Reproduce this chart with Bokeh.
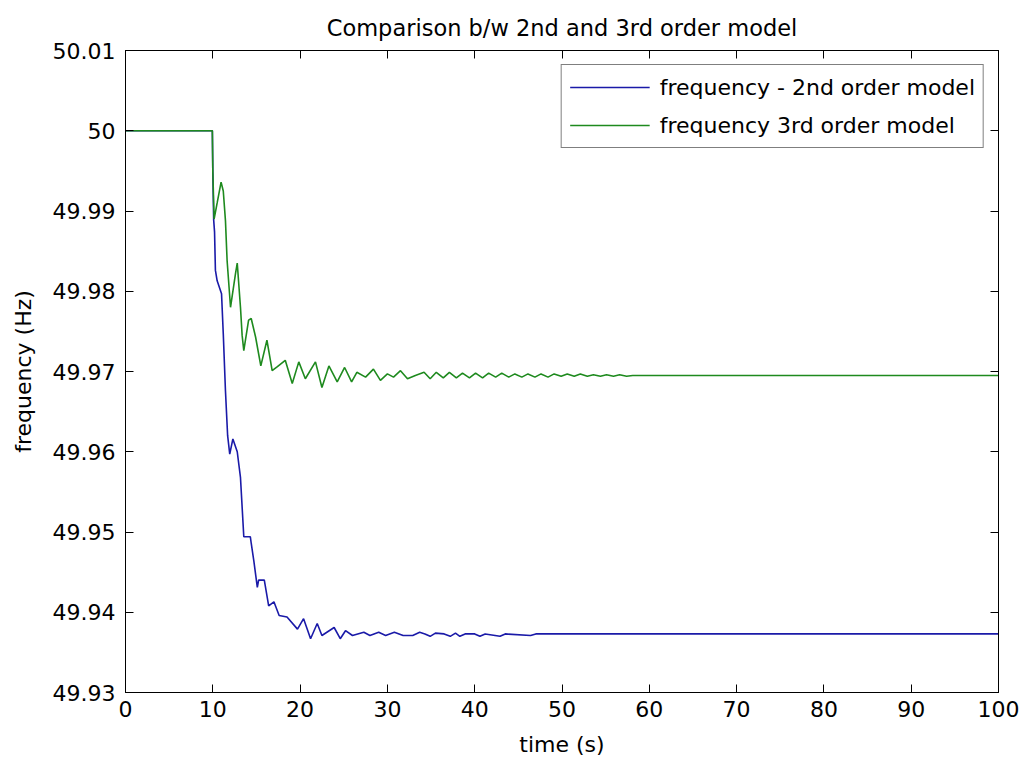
from bokeh.plotting import figure
from bokeh.models import (Range1d, LinearAxis, FixedTicker, CustomJSTickFormatter,
                          Legend, LegendItem)
from bokeh.embed import file_html
from bokeh.resources import INLINE

# ---- data ----
t_2nd = [0, 9.95, 10.0, 10.1, 10.2, 10.3, 10.5, 11.0, 11.2, 11.45, 11.7, 11.94, 12.3,
         12.8, 13.17, 13.36, 13.55, 14.3, 14.4, 14.7, 15.1, 15.25, 15.9, 16.4, 17.0,
         17.6, 18.5, 19.7, 20.4, 21.2, 21.96, 22.5, 23.9, 24.6, 25.2, 26.0, 27.3,
         28.0, 29.0, 29.8, 30.8, 31.8, 32.9, 33.7, 34.3, 34.9, 35.5, 36.5, 37.2,
         37.8, 38.3, 38.9, 40.0, 40.6, 41.2, 42.9, 43.5, 46.4, 47.0, 100]
f_2nd = [50.0, 50.0, 49.995, 49.9889, 49.9874, 49.9826, 49.9813, 49.9797, 49.9747,
         49.9676, 49.962, 49.9597, 49.9616, 49.960, 49.9568, 49.9531, 49.9494, 49.9494,
         49.9486, 49.9464, 49.9431, 49.944, 49.944, 49.9408, 49.9413, 49.9396, 49.9394,
         49.9379, 49.9392, 49.9367, 49.9386, 49.9371, 49.9381, 49.9367, 49.9377,
         49.9371, 49.9375, 49.9371, 49.9375, 49.9371, 49.9375, 49.9371, 49.9371,
         49.9375, 49.9373, 49.9370, 49.9374, 49.9373, 49.9370, 49.9374, 49.9370,
         49.9373, 49.9373, 49.9370, 49.9373, 49.9370, 49.9373, 49.9371, 49.9373, 49.9373]

t_3rd = [0, 9.95, 10.0, 10.15, 10.5, 10.95, 11.2, 11.45, 11.64, 12.03, 12.6, 12.8,
         13.17, 13.36, 13.55, 14.1, 14.4, 14.9, 15.5, 16.2, 16.8, 17.4, 18.3, 19.1,
         19.85, 20.6, 21.76, 22.5, 23.3, 24.25, 25.1, 25.9, 26.5, 27.5, 28.4, 29.2,
         30.0, 30.7, 31.5, 32.3, 33.2, 34.2, 34.9, 35.6, 36.4, 37.1, 37.9, 38.6, 39.4,
         40.1, 40.9, 41.6, 42.4, 43.1, 43.9, 44.6, 45.4, 46.1, 46.9, 47.6, 48.4, 49.1,
         49.9, 50.6, 51.4, 52.1, 52.9, 53.6, 54.4, 55.1, 55.9, 56.6, 57.4, 58.1, 100]
f_3rd = [50.0, 50.0, 49.995, 49.989, 49.991, 49.9936, 49.9925, 49.9888, 49.9838,
         49.978, 49.9822, 49.9835, 49.978, 49.9745, 49.9726, 49.9764, 49.9766, 49.9743,
         49.9707, 49.9739, 49.9701, 49.9706, 49.9714, 49.9685, 49.9712, 49.9691,
         49.9712, 49.9680, 49.9707, 49.9687, 49.9705, 49.9687, 49.9699, 49.9693,
         49.9703, 49.9689, 49.9697, 49.9693, 49.9701, 49.9691, 49.9695, 49.9699,
         49.9691, 49.9699, 49.9692, 49.9699, 49.9692, 49.9698, 49.9692, 49.9698,
         49.9692, 49.9698, 49.9693, 49.9698, 49.9693, 49.9697, 49.9693, 49.9697,
         49.9693, 49.9697, 49.9693, 49.9697, 49.9694, 49.9697, 49.9694, 49.9697,
         49.9694, 49.9696, 49.9694, 49.9696, 49.9694, 49.9696, 49.9694, 49.9695, 49.9695]

x_ticks = [0, 10, 20, 30, 40, 50, 60, 70, 80, 90, 100]
y_ticks = [49.93, 49.94, 49.95, 49.96, 49.97, 49.98, 49.99, 50.0, 50.01]

title_text = "Comparison b/w 2nd and 3rd order model"
x_label = "time (s)"
y_label = "frequency (Hz)"
label_2nd = "frequency - 2nd order model"
label_3rd = "frequency 3rd order model"

FONT = "DejaVu Sans"
FS = "22px"

p = figure(width=1020, height=764, output_backend="svg", toolbar_location=None,
           x_range=Range1d(0, 100), y_range=Range1d(49.93, 50.01),
           min_border_left=125, min_border_right=22, min_border_top=50,
           min_border_bottom=72, title=title_text)
p.title.text_font = FONT
p.title.text_font_size = "22.5px"
p.title.text_font_style = "normal"
p.title.align = "center"
p.title.text_color = "black"
p.title.standoff = 20
p.background_fill_color = "white"
p.border_fill_color = "white"
p.outline_line_color = "black"
p.outline_line_width = 1
p.xgrid.visible = False
p.ygrid.visible = False

fmt = CustomJSTickFormatter(code="return String(Number(tick.toFixed(2)));")
blank = CustomJSTickFormatter(code="return '';")

def style_axis(ax, ticks, show_labels):
    ax.ticker = FixedTicker(ticks=ticks)
    ax.minor_tick_line_color = None
    ax.major_tick_in = 8
    ax.major_tick_out = 0
    ax.major_tick_line_color = "black"
    ax.axis_line_color = "black"
    ax.major_label_text_font = FONT
    ax.major_label_text_font_size = FS
    ax.major_label_text_color = "black"
    ax.axis_label_text_font = FONT
    ax.axis_label_text_font_size = FS
    ax.axis_label_text_font_style = "normal"
    ax.axis_label_text_color = "black"
    if not show_labels:
        ax.formatter = blank
        ax.major_label_standoff = 0

style_axis(p.xaxis[0], x_ticks, True)
style_axis(p.yaxis[0], y_ticks, True)
p.xaxis[0].axis_label = x_label
p.yaxis[0].axis_label = y_label
p.yaxis[0].formatter = fmt
p.xaxis[0].major_label_standoff = 8
p.yaxis[0].major_label_standoff = 10
p.xaxis[0].axis_label_standoff = 12
p.yaxis[0].axis_label_standoff = 14

top_ax = LinearAxis()
style_axis(top_ax, x_ticks, False)
p.add_layout(top_ax, "above")
right_ax = LinearAxis()
style_axis(right_ax, y_ticks, False)
p.add_layout(right_ax, "right")

r2 = p.line(t_2nd, f_2nd, line_color="#1a1aa8", line_width=1.6)
r3 = p.line(t_3rd, f_3rd, line_color="#1e8a1e", line_width=1.6)

legend = Legend(items=[LegendItem(label=label_2nd, renderers=[r2]),
                       LegendItem(label=label_3rd, renderers=[r3])],
                location="top_right")
legend.label_text_font = FONT
legend.label_text_font_size = FS
legend.label_text_color = "black"
legend.glyph_width = 80
legend.glyph_height = 28
legend.label_height = 28
legend.label_standoff = 10
legend.spacing = 10
legend.padding = 8
legend.margin = 14
legend.border_line_color = "black"
legend.border_line_width = 1
legend.background_fill_color = "white"
p.add_layout(legend, "center")

open("out.html", "w").write(file_html(p, INLINE))
